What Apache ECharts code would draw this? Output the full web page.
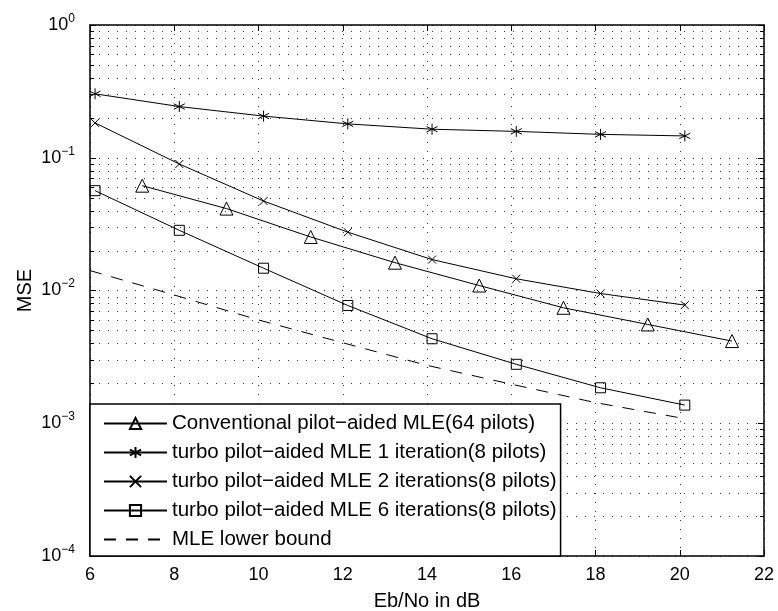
<!DOCTYPE html>
<html>
<head>
<meta charset="utf-8">
<script src="https://cdn.jsdelivr.net/npm/echarts@6/dist/echarts.min.js"></script>
<style>
html,body{margin:0;padding:0;background:#fff;}
#chart{width:778px;height:611px;}
</style>
</head>
<body>
<div id="chart"></div>
<script>
// ---- data ----
const xMain  = [6.12, 8.12, 10.12, 12.12, 14.12, 16.12, 18.12, 20.12];
const xConv  = [7.24, 9.24, 11.24, 13.24, 15.24, 17.24, 19.24, 21.24];
const xBound = [6, 8, 10, 12, 14, 16, 18, 20];

const conv  = [0.0616, 0.0414, 0.0253, 0.0162, 0.0109, 0.00741, 0.00555, 0.00416];
const iter1 = [0.303, 0.243, 0.206, 0.180, 0.164, 0.158, 0.150, 0.146];
const iter2 = [0.183, 0.0897, 0.0472, 0.0275, 0.0171, 0.01225, 0.00949, 0.00776];
const iter6 = [0.0565, 0.0284, 0.01472, 0.00771, 0.00433, 0.00278, 0.00185, 0.00137];
const bound = [0.01413, 0.00925, 0.00600, 0.00404, 0.00273, 0.00197, 0.00143, 0.00110];

const seriesNames = [
  'Conventional pilot\u2212aided MLE(64 pilots)',
  'turbo pilot\u2212aided MLE 1 iteration(8 pilots)',
  'turbo pilot\u2212aided MLE 2 iterations(8 pilots)',
  'turbo pilot\u2212aided MLE 6 iterations(8 pilots)',
  'MLE lower bound'
];
const xTicks = [6, 8, 10, 12, 14, 16, 18, 20, 22];
const yDecades = [1e-4, 1e-3, 1e-2, 1e-1];
const yMinorMult = [2, 3, 4, 5, 6, 7, 8, 9];

// ---- build ----
const FONT = 'Liberation Sans, Arial, Helvetica, sans-serif';
const zip = (xs, ys) => xs.map((x, i) => [x, ys[i]]);
const minorVals = [];
yDecades.forEach(d => yMinorMult.forEach(m => minorVals.push([xTicks[0], +(d * m).toPrecision(3)])));

const STAR = 'path://M0,-1L0,1M-0.866,-0.5L0.866,0.5M-0.866,0.5L0.866,-0.5';
const XMARK = 'path://M-1,-1L1,1M-1,1L1,-1';

const gridDot = {color: '#333', width: 1, type: [1, 8]};

function lineSeries(name, data, symbol, size, extra) {
  return Object.assign({
    name: name, type: 'line', data: data,
    symbol: symbol, symbolSize: size, showSymbol: symbol !== 'none',
    lineStyle: {color: '#000', width: 1},
    itemStyle: {color: 'rgba(0,0,0,0)', borderColor: '#000', borderWidth: 1},
    emphasis: {disabled: true}, silent: true, z: 5
  }, extra || {});
}

const legendData = seriesNames.map((n, i) => i === 4
  ? {name: n, itemStyle: {color: 'rgba(0,0,0,0)', borderColor: 'rgba(0,0,0,0)', borderWidth: 0}}
  : {name: n});

const chart = echarts.init(document.getElementById('chart'), null, {renderer: 'canvas'});
chart.setOption({
  animation: false,
  backgroundColor: '#fff',
  grid: {left: 90, top: 25, right: 14, bottom: 55, containLabel: false, outerBoundsMode: 'none'},
  xAxis: [{
    type: 'value', min: 6, max: 22, interval: 2, position: 'bottom',
    name: 'Eb/No in dB', nameLocation: 'middle', nameGap: 35,
    nameTextStyle: {fontFamily: FONT, fontSize: 20, color: '#000'},
    axisLine: {show: true, onZero: false, lineStyle: {color: '#000', width: 1.5}},
    axisTick: {show: true, inside: true, length: 6, lineStyle: {color: '#000'}},
    axisLabel: {fontFamily: FONT, fontSize: 18, color: '#000', margin: 10},
    splitLine: {show: true, lineStyle: gridDot}
  }, {
    type: 'value', min: 6, max: 22, interval: 2, position: 'top',
    axisLine: {show: true, onZero: false, lineStyle: {color: '#000', width: 1.5}},
    axisTick: {show: true, inside: true, length: 6, lineStyle: {color: '#000'}},
    axisLabel: {show: false}, splitLine: {show: false}
  }],
  yAxis: [{
    type: 'log', logBase: 10, min: 1e-4, max: 1, interval: 1, position: 'left',
    name: 'MSE', nameLocation: 'middle', nameGap: 55, nameMoveOverlap: false,
    nameTextStyle: {fontFamily: FONT, fontSize: 20, color: '#000'},
    axisLine: {show: true, onZero: false, lineStyle: {color: '#000', width: 1.5}},
    axisTick: {show: true, inside: true, length: 6, lineStyle: {color: '#000'}},
    axisLabel: {
      margin: 15, fontFamily: FONT, color: '#000',
      formatter: function (v) {
        const e = Math.round(Math.log10(v));
        return '{b|10}{e|' + (e < 0 ? '\u2212' + (-e) : e) + '}';
      },
      rich: {
        b: {fontFamily: FONT, fontSize: 18, color: '#000'},
        e: {fontFamily: FONT, fontSize: 12, color: '#000', padding: [0, 0, 13, 0]}
      }
    },
    splitLine: {show: true, lineStyle: gridDot}
  }, {
    type: 'log', logBase: 10, min: 1e-4, max: 1, interval: 1, position: 'right',
    axisLine: {show: true, onZero: false, lineStyle: {color: '#000', width: 1.5}},
    axisTick: {show: true, inside: true, length: 6, lineStyle: {color: '#000'}},
    axisLabel: {show: false}, splitLine: {show: false}
  }],
  legend: {
    data: legendData, orient: 'vertical', left: 90, top: 404,
    itemWidth: 63, itemHeight: 14, itemGap: 8,
    textStyle: {fontFamily: FONT, fontSize: 20.5, color: '#000', lineHeight: 20},
    borderColor: '#000', borderWidth: 1.5, borderRadius: 0,
    backgroundColor: '#fff', padding: [9, 4, 6, 13],
    selectedMode: false, z: 20
  },
  series: [
    {
      name: 'minorGrid', type: 'custom', data: minorVals, silent: true, z: 1,
      renderItem: function (params, api) {
        const v = api.value(1);
        const p0 = api.coord([xTicks[0], v]);
        const p1 = api.coord([xTicks[xTicks.length - 1], v]);
        const y = Math.round(p0[1]) + 0.5;
        return {type: 'group', children: [
          {type: 'line', shape: {x1: p0[0], y1: y, x2: p1[0], y2: y},
           style: {stroke: '#333', lineWidth: 1, lineDash: [1, 8]}},
          {type: 'line', shape: {x1: p0[0], y1: y, x2: p0[0] + 4, y2: y},
           style: {stroke: '#000', lineWidth: 1}},
          {type: 'line', shape: {x1: p1[0] - 4, y1: y, x2: p1[0], y2: y},
           style: {stroke: '#000', lineWidth: 1}}
        ]};
      }
    },
    lineSeries(seriesNames[0], zip(xConv, conv), 'triangle', 13),
    lineSeries(seriesNames[1], zip(xMain, iter1), STAR, 11),
    lineSeries(seriesNames[2], zip(xMain, iter2), XMARK, 8),
    lineSeries(seriesNames[3], zip(xMain, iter6), 'rect', 10),
    lineSeries(seriesNames[4], zip(xBound, bound), 'none', 0,
      {lineStyle: {color: '#000', width: 1, type: [12, 10]}})
  ]
});
</script>
</body>
</html>
